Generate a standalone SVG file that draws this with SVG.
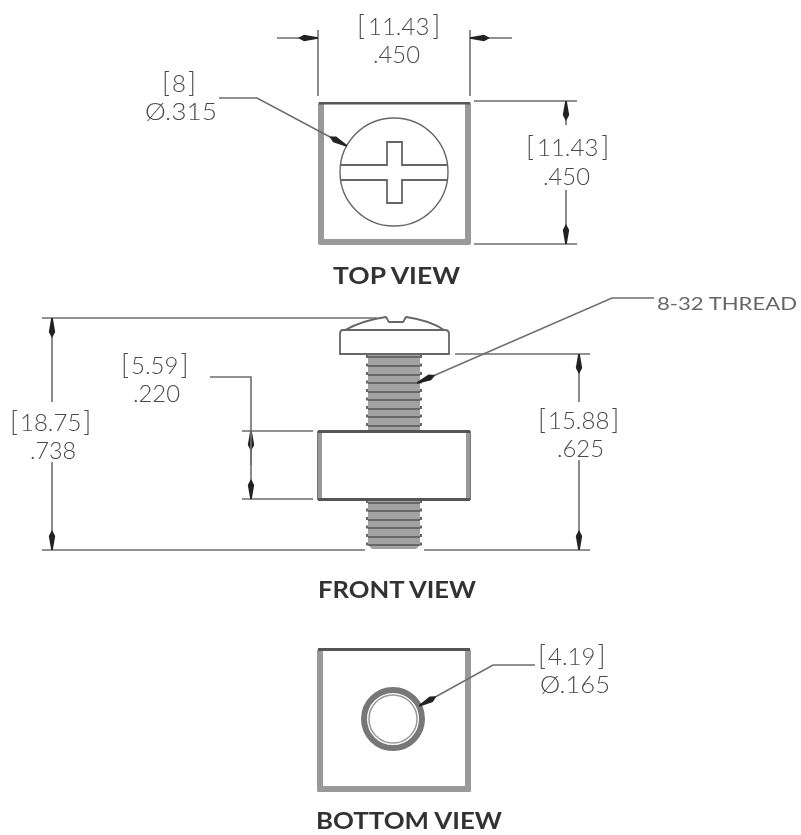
<svg xmlns="http://www.w3.org/2000/svg" width="801" height="835" viewBox="0 0 801 835">
<defs>
<marker id="arr" viewBox="0 0 20 8" refX="20" refY="4" markerWidth="20" markerHeight="8" markerUnits="userSpaceOnUse" orient="auto"><path d="M0 4L6 .8L20 3.200V4.800L6 7.200Z" fill="#222"/></marker>
<filter id="soft" x="0" y="0" width="801" height="835" filterUnits="userSpaceOnUse"><feGaussianBlur stdDeviation="0.7"/></filter>
</defs>
<style>
.dim{fill:none;stroke:#6e6e6e;stroke-width:1.6}
.arr{marker-end:url(#arr)}
.edge{fill:none;stroke:#666;stroke-width:1.8}
.band{fill:#999;stroke:none}
.top{fill:#555;stroke:none}
.thr{fill:#a2a2a2;stroke:none}
.trl{fill:none;stroke:#555;stroke-width:1.3}
.tth{fill:none;stroke:#666;stroke-width:2;stroke-dasharray:3 5.5}
text{font-family:"Lato","Liberation Sans",sans-serif;fill:#4a4a4a}
.v{font-size:24px;font-weight:300}
.b{font-size:27px;font-weight:300}
.t{font-size:18px;font-weight:400;fill:#666}
.h{font-size:22px;font-weight:700;fill:#333}
</style>
<rect width="801" height="835" fill="#fff"/>
<g filter="url(#soft)">
<g id="top-view">
<rect class="band" x="318" y="102" width="6" height="142" rx="2"/>
<rect class="band" x="465" y="102" width="6" height="142" rx="2"/>
<rect class="band" x="318" y="239" width="153" height="6" rx="2"/>
<rect class="top" x="319" y="102" width="151" height="2.500"/>
<circle class="edge" cx="394" cy="172" r="54" style="stroke-width:1.4"/>
<path class="edge" d="M341 165H387V142H402V165H447M341 180H387V203H402V180H447"/>
</g>
<g id="front-view">
<rect class="thr" x="368" y="354" width="52" height="77"/>
<path class="thr" d="M368 499H420V545L416 549H372L368 545Z"/>
<path class="trl" d="M368 357H420M368 366H420M368 375H420M368 383H420M368 392H420M368 400H420M368 409H420M368 417H420M368 426H420M368 503H420M368 511H420M368 520H420M368 528H420M368 537H420M368 545H420"/>
<path class="tth" d="M367 355V431M421 355V431M367 500V546M421 500V546"/>
<path class="edge" d="M345 330C358 323 372 319 386 317L389 322H403L406 317C420 319 434 323 444 330M343 330H445Q449 330 449 334V354H340V334Q340 330 343 330Z"/>
<rect class="edge" x="318" y="432" width="152" height="67"/>
<rect class="band" x="318" y="432" width="4" height="67"/>
<rect class="band" x="466" y="432" width="4" height="67"/>
<rect class="top" x="318" y="430" width="152" height="3"/>
<rect class="top" x="318" y="498" width="152" height="3"/>
</g>
<g id="bottom-view">
<rect class="band" x="317" y="649" width="6" height="143" rx="2"/>
<rect class="band" x="465" y="649" width="6" height="143" rx="2"/>
<rect class="band" x="317" y="786" width="154" height="6" rx="2"/>
<rect class="top" x="318" y="648" width="152" height="3"/>
<circle cx="393" cy="719" r="29" fill="#fff" stroke="#777" stroke-width="6"/>
<circle cx="393" cy="719" r="24" fill="#fff" stroke="#999" stroke-width="1.500"/>
</g>
<g id="connectors">
<path class="dim" d="M318 30V96M470 30V96M474 101H577M474 244H577"/>
<path class="dim arr" d="M277 38H318"/>
<path class="dim arr" d="M512 38H470"/>
<path class="dim arr" d="M566 125V101"/>
<path class="dim arr" d="M566 190V244"/>
<path class="dim arr" d="M219 98H257L347 146"/>
<path class="dim" d="M42 318H377M42 550H365M424 550H590M455 354H590M242 431H313M242 499H313"/>
<path class="dim arr" d="M52 402V318"/>
<path class="dim arr" d="M52 462V550"/>
<path class="dim arr" d="M579 402V354"/>
<path class="dim arr" d="M579 460V550"/>
<path class="dim arr" d="M251 465V431"/>
<path class="dim arr" d="M210 377H251V499"/>
<path class="dim arr" d="M654 298H612L417 383"/>
<path class="dim arr" d="M535 665H493L419 706"/>
</g>
<g id="labels">
<text class="v" x="357" y="35"><tspan class="b">[</tspan><tspan dx="3">11.43</tspan><tspan class="b" dx="3">]</tspan></text>
<text class="v" x="373" y="63" textLength="47" lengthAdjust="spacingAndGlyphs">.450</text>
<text class="v" x="162" y="92"><tspan class="b">[</tspan><tspan dx="2">8</tspan><tspan class="b" dx="2">]</tspan></text>
<text class="v" x="145" y="120" textLength="72" lengthAdjust="spacingAndGlyphs">Ø.315</text>
<text class="v" x="526" y="156"><tspan class="b">[</tspan><tspan dx="3">11.43</tspan><tspan class="b" dx="3">]</tspan></text>
<text class="v" x="543" y="185" textLength="47" lengthAdjust="spacingAndGlyphs">.450</text>
<text class="h" x="333" y="284" textLength="127" lengthAdjust="spacingAndGlyphs">TOP VIEW</text>
<text class="t" x="657" y="310" textLength="140" lengthAdjust="spacingAndGlyphs">8-32 THREAD</text>
<text class="v" x="121" y="374"><tspan class="b">[</tspan><tspan dx="2">5.59</tspan><tspan class="b" dx="2">]</tspan></text>
<text class="v" x="133" y="402" textLength="47" lengthAdjust="spacingAndGlyphs">.220</text>
<text class="v" x="10" y="431"><tspan class="b">[</tspan><tspan dx="2">18.75</tspan><tspan class="b" dx="2">]</tspan></text>
<text class="v" x="30" y="459" textLength="46" lengthAdjust="spacingAndGlyphs">.738</text>
<text class="v" x="538" y="429"><tspan class="b">[</tspan><tspan dx="2">15.88</tspan><tspan class="b" dx="2">]</tspan></text>
<text class="v" x="557" y="457" textLength="47" lengthAdjust="spacingAndGlyphs">.625</text>
<text class="h" x="318" y="598" textLength="158" lengthAdjust="spacingAndGlyphs">FRONT VIEW</text>
<text class="v" x="538" y="665"><tspan class="b">[</tspan><tspan dx="2">4.19</tspan><tspan class="b" dx="2">]</tspan></text>
<text class="v" x="540" y="693" textLength="70" lengthAdjust="spacingAndGlyphs">Ø.165</text>
<text class="h" x="316" y="829" textLength="186" lengthAdjust="spacingAndGlyphs">BOTTOM VIEW</text>
</g>
</g>
</svg>
